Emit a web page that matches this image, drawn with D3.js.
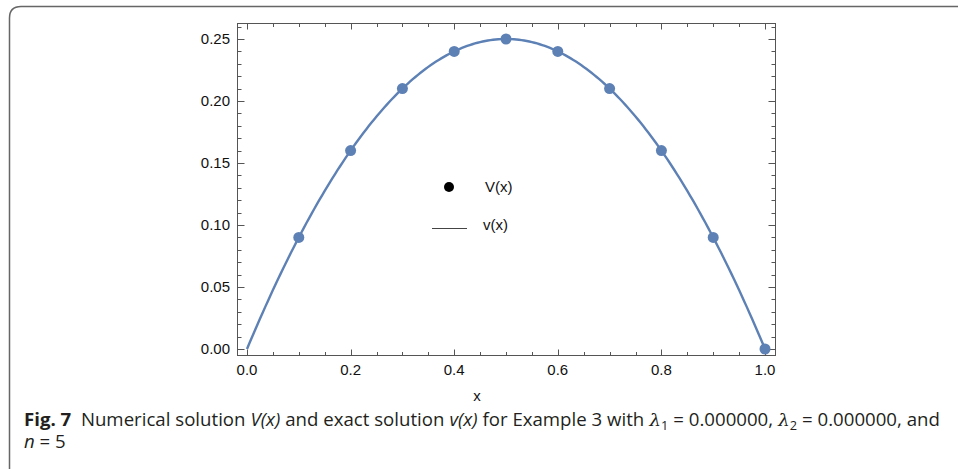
<!DOCTYPE html>
<html><head><meta charset="utf-8">
<script src="https://cdn.jsdelivr.net/npm/d3@7"></script>
<style>body{margin:0;background:#fff}svg{display:block}</style>
</head><body>
<svg id="c" width="958" height="469"></svg>
<script>
const xPts = [0.1,0.2,0.3,0.4,0.5,0.6,0.7,0.8,0.9,1.0];
const VPts = [0.09,0.16,0.21,0.24,0.25,0.24,0.21,0.16,0.09,0.0];
const xTickLabels = ["0.0","0.2","0.4","0.6","0.8","1.0"];
const yTickLabels = ["0.00","0.05","0.10","0.15","0.20","0.25"];
const legendLabels = ["V(x)","v(x)"];
const exact = x => x*(1-x);

const svg = d3.select("#c");
const col = "#5E81B5";
const axCol = "#555";
// outer border
svg.append("path").attr("d","M9.5,469 L9.5,18 Q9.5,6.5 21,6.5 L958,6.5")
  .attr("fill","none").attr("stroke","#666").attr("stroke-width",1.5);

const x = d3.scaleLinear().domain([0,1]).range([247,765]);
const y = d3.scaleLinear().domain([0,0.25]).range([349,39]);
const L=237.5,R=775.5,T=23.5,B=355.5;
const g = svg.append("g");
g.append("rect").attr("x",L).attr("y",T).attr("width",R-L).attr("height",B-T)
  .attr("fill","none").attr("stroke",axCol).attr("stroke-width",1);

const xMajor = d3.range(0,1.0001,0.2), xMinor = d3.range(0,1.0001,0.05).filter(v=>Math.abs(v*5-Math.round(v*5))>1e-6);
const yMajor = d3.range(0,0.2501,0.05), yMinor = d3.range(0,0.2601,0.01).filter(v=>Math.abs(v*20-Math.round(v*20))>1e-6);
const tk = (x1,y1,x2,y2)=>g.append("line").attr("x1",x1).attr("y1",y1).attr("x2",x2).attr("y2",y2).attr("stroke",axCol).attr("stroke-width",1);
xMajor.forEach(v=>{const p=Math.round(x(v))+0.5; tk(p,B,p,B-6); tk(p,T,p,T+6);});
xMinor.forEach(v=>{const p=Math.round(x(v))+0.5; tk(p,B,p,B-3.5); tk(p,T,p,T+3.5);});
yMajor.forEach(v=>{const p=Math.round(y(v))+0.5; tk(L,p,L+7,p); tk(R,p,R-7,p);});
yMinor.forEach(v=>{const p=Math.round(y(v))+0.5; tk(L,p,L+4,p); tk(R,p,R-4,p);});

const fnt = "'Liberation Sans', Arial, sans-serif";
const fs = 15;
xMajor.forEach((v,i)=>g.append("text").attr("x",x(v)).attr("y",375).attr("text-anchor","middle")
  .attr("font-family",fnt).attr("font-size",fs).attr("fill","#111").text(xTickLabels[i]));
yMajor.forEach((v,i)=>g.append("text").attr("x",230).attr("y",y(v)+5).attr("text-anchor","end")
  .attr("font-family",fnt).attr("font-size",fs).attr("fill","#111").text(yTickLabels[i]));
g.append("text").attr("x",477).attr("y",401).attr("text-anchor","middle").attr("font-family",fnt)
  .attr("font-size",fs).attr("fill","#111").text("x");

// curve
const xs = d3.range(0,1.0001,0.005);
g.append("path").datum(xs).attr("d",d3.line().x(d=>x(d)).y(d=>y(exact(d))))
  .attr("fill","none").attr("stroke",col).attr("stroke-width",2.4);
g.selectAll("circle.pt").data(xPts).enter().append("circle").attr("class","pt")
  .attr("cx",d=>x(d)).attr("cy",(d,i)=>y(VPts[i])).attr("r",5.5).attr("fill",col);

// legend
g.append("circle").attr("cx",449).attr("cy",187).attr("r",5).attr("fill","#000");
g.append("text").attr("x",485).attr("y",191.5).attr("font-family",fnt).attr("font-size",fs).attr("fill","#111").text(legendLabels[0]);
g.append("line").attr("x1",432).attr("x2",467).attr("y1",228.5).attr("y2",228.5).attr("stroke","#444").attr("stroke-width",1);
g.append("text").attr("x",483).attr("y",230).attr("font-family",fnt).attr("font-size",fs).attr("fill","#111").text(legendLabels[1]);

// caption: pieces laid out left to right, then stretched to the reference width
const cf = "'Open Sans', sans-serif";
const pieces = [
  {t:"Fig. 7", w:"bold"},
  {t:"Numerical solution ", gap:9},
  {t:"V(x)", i:true},
  {t:" and exact solution "},
  {t:"v(x)", i:true},
  {t:" for Example 3 with "},
  {t:"λ", i:true, f:"'DejaVu Serif',serif"},
  {t:"1", sub:true},
  {t:" = 0.000000, "},
  {t:"λ", i:true, f:"'DejaVu Serif',serif"},
  {t:"2", sub:true},
  {t:" = 0.000000, and"}
];
const capG = svg.append("g");
let cx = 0;
pieces.forEach(p=>{
  cx += (p.gap||0);
  const t = capG.append("text").attr("x",cx).attr("y",p.sub?4:0).attr("font-family",p.f||cf)
    .attr("font-size",p.sub?12:17.5).attr("fill","#231f20").style("white-space","pre")
    .attr("font-weight",p.w||null).attr("font-style",p.i?"italic":null).text(p.t);
  cx += t.node().getComputedTextLength();
});
const sx = 916/cx;
capG.attr("transform",`translate(24,426) scale(${sx},1)`);
const cap2 = svg.append("g").attr("transform",`translate(24,448) scale(${sx},1)`);
const n1 = cap2.append("text").attr("font-family",cf).attr("font-size",17.5).attr("fill","#231f20").attr("font-style","italic").text("n");
cap2.append("text").attr("x",n1.node().getComputedTextLength()).attr("font-family",cf).attr("font-size",17.5)
  .attr("fill","#231f20").style("white-space","pre").text(" = 5");
</script>
</body></html>
